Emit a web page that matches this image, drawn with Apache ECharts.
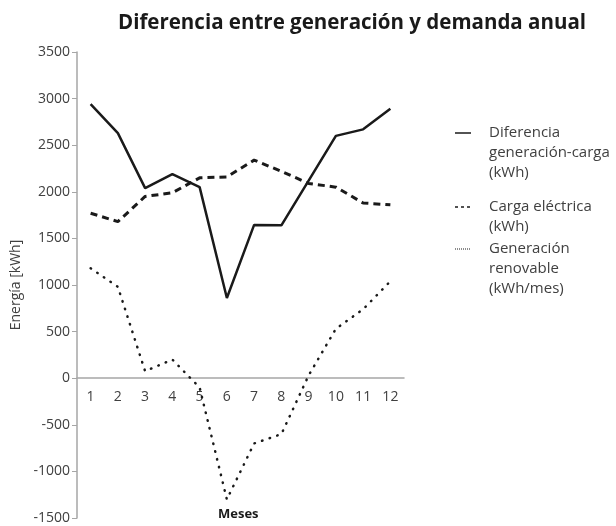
<!DOCTYPE html>
<html lang="es">
<head>
<meta charset="UTF-8" />
<title>Diferencia entre generación y demanda anual</title>
<script src="https://cdn.jsdelivr.net/npm/echarts@6/dist/echarts.min.js"></script>
<style>
  html, body { margin: 0; padding: 0; background: #fff; }
  #main { width: 616px; height: 526px; }
</style>
</head>
<body>
<div id="main"></div>
<script>
  // datos
  var meses = ['1', '2', '3', '4', '5', '6', '7', '8', '9', '10', '11', '12'];
  var diferencia = [2940, 2630, 2040, 2190, 2050, 860, 1645, 1640, 2120, 2600, 2670, 2890];
  var carga = [1770, 1680, 1950, 1990, 2150, 2160, 2340, 2220, 2090, 2050, 1880, 1860];
  var generacion = [1180, 980, 75, 200, -100, -1300, -700, -600, 30, 530, 740, 1040];
  var nombres = [
    'Diferencia\ngeneración-carga\n(kWh)',
    'Carga eléctrica\n(kWh)',
    'Generación\nrenovable\n(kWh/mes)'
  ];

  var fuente = '"Open Sans", sans-serif';
  var estilos = [
    { width: 2.5, type: 'solid', cap: 'butt' },
    { width: 3, type: [7, 5], cap: 'butt' },
    { width: 2.5, type: [0.5, 7.5], cap: 'round' }
  ];
  var series = [diferencia, carga, generacion].map(function (datos, i) {
    return {
      name: nombres[i],
      type: 'line',
      data: datos,
      symbol: 'none',
      lineStyle: { color: '#1a1a1a', width: estilos[i].width, type: estilos[i].type, cap: estilos[i].cap }
    };
  });

  // alto del área de trazado, para poner el eje x en el cero
  var gridTop = 52, gridBottom = 8, alto = 526 - gridTop - gridBottom;
  var yMin = -1500, yMax = 3500;
  var offsetCero = -alto * (0 - yMin) / (yMax - yMin);

  // leyenda dibujada a mano (icono alineado con la primera línea)
  var leyendaTop = [123, 197, 239];
  var leyenda = [];
  nombres.forEach(function (n, i) {
    leyenda.push({
      type: 'line',
      shape: { x1: 455, y1: leyendaTop[i] + 10, x2: 471, y2: leyendaTop[i] + 10 },
      style: {
        stroke: '#1a1a1a',
        lineWidth: i === 2 ? 1 : 1.5,
        lineDash: i === 0 ? null : (i === 1 ? [3, 3] : [1, 1])
      }
    });
    leyenda.push({
      type: 'text',
      left: 489,
      top: leyendaTop[i],
      style: { text: n, fontFamily: fuente, fontSize: 15, lineHeight: 20, fill: '#404040' }
    });
  });
  leyenda.push({
    type: 'text',
    left: 218,
    top: 508,
    style: { text: 'Meses', fontFamily: fuente, fontSize: 13, fontWeight: 'bold', fill: '#1a1a1a' }
  });

  var myChart = echarts.init(document.getElementById('main'));
  var option = {
    animation: false,
    textStyle: { fontFamily: fuente },
    title: {
      text: 'Diferencia entre generación y demanda anual',
      left: 347,
      top: 8,
      textAlign: 'center',
      textStyle: { fontSize: 20.5, fontWeight: 'bold', color: '#1a1a1a', fontFamily: fuente }
    },
    grid: { left: 77, right: 212, top: gridTop, bottom: gridBottom, containLabel: false, outerBoundsMode: 'none' },
    xAxis: {
      type: 'category',
      data: meses,
      boundaryGap: true,
      offset: offsetCero,
      axisLine: { onZero: false, lineStyle: { color: '#a6a6a6', width: 1.5 } },
      axisTick: { show: false },
      axisLabel: { color: '#404040', fontSize: 14, margin: 12 }
    },
    yAxis: {
      type: 'value',
      min: yMin,
      max: yMax,
      interval: 500,
      name: 'Energía [kWh]',
      nameLocation: 'middle',
      nameGap: 51,
      nameTextStyle: { color: '#404040', fontSize: 14 },
      axisLine: { show: true, lineStyle: { color: '#a6a6a6', width: 1.5 } },
      axisTick: { show: true, length: 5, lineStyle: { color: '#a6a6a6' } },
      axisLabel: { color: '#404040', fontSize: 14, margin: 7, formatter: function (v) { return String(v); } },
      splitLine: { show: false }
    },
    series: series,
    graphic: leyenda
  };
  myChart.setOption(option);
</script>
</body>
</html>
